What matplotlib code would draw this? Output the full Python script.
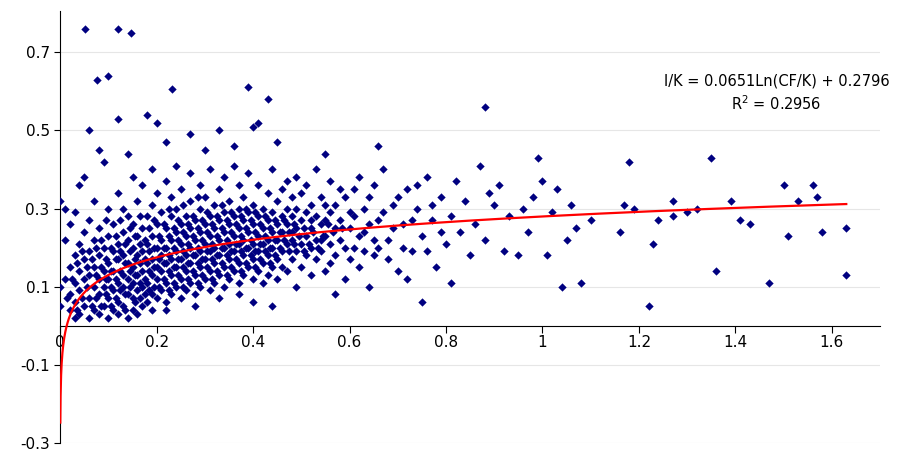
import numpy as np
import matplotlib.pyplot as plt

# points (x = CF/K, y = I/K)
pts = [
    # outliers, top
    (0.052, 0.76), (0.12, 0.76), (0.147, 0.75), (0.077, 0.63), (0.10, 0.64),
    (0.232, 0.605), (0.39, 0.61), (0.43, 0.58), (0.88, 0.56), (0.06, 0.50),
    (0.18, 0.54), (0.20, 0.52), (0.12, 0.53), (0.41, 0.52), (0.40, 0.51),
    (0.33, 0.50), (0.27, 0.49), (0.22, 0.47), (0.36, 0.46), (0.45, 0.47),
    (0.66, 0.46), (0.08, 0.45), (0.14, 0.44), (0.30, 0.45), (0.55, 0.44),
    # right side sparse
    (1.18, 0.42), (1.35, 0.43), (1.50, 0.36), (1.56, 0.36), (1.63, 0.25),
    (1.63, 0.13), (1.47, 0.11), (1.36, 0.14), (1.22, 0.05), (0.75, 0.06),
    (1.04, 0.10), (1.08, 0.11), (0.99, 0.43), (1.00, 0.37), (1.27, 0.32),
    (1.27, 0.28), (1.39, 0.32), (1.41, 0.27), (1.43, 0.26), (1.53, 0.32),
    (1.57, 0.33), (1.51, 0.23), (1.58, 0.24), (1.32, 0.30), (1.30, 0.29),
    (1.23, 0.21), (1.24, 0.27), (1.17, 0.31), (1.16, 0.24), (1.19, 0.30),
    (1.10, 0.27), (1.07, 0.25), (1.05, 0.22), (1.06, 0.31), (1.03, 0.35),
    (1.02, 0.29), (0.98, 0.33), (0.97, 0.24), (0.95, 0.18), (0.93, 0.28),
    (0.91, 0.36), (0.90, 0.31), (0.88, 0.22), (0.87, 0.41), (0.86, 0.26),
    (0.85, 0.18), (0.84, 0.32), (0.83, 0.24), (0.82, 0.37), (0.81, 0.28),
    (0.80, 0.21), (0.79, 0.33), (0.78, 0.15), (0.77, 0.27), (0.76, 0.38),
    (0.75, 0.23), (0.74, 0.30), (0.73, 0.19), (0.72, 0.35), (0.71, 0.26),
    (0.70, 0.14), (0.69, 0.31), (0.68, 0.22), (0.67, 0.40), (0.66, 0.27),
    (0.65, 0.18), (0.64, 0.33), (0.63, 0.24), (0.62, 0.38), (0.61, 0.20),
    (0.60, 0.29), (0.59, 0.12), (0.58, 0.35), (0.57, 0.25), (0.56, 0.16),
    (0.55, 0.31), (0.54, 0.22), (0.53, 0.40), (0.52, 0.27), (0.51, 0.18),
    (0.50, 0.34), (0.49, 0.10), (0.48, 0.24), (0.47, 0.37), (0.46, 0.15),
    (0.92, 0.19), (0.96, 0.30), (1.01, 0.18), (0.89, 0.34), (0.81, 0.11),
    (0.72, 0.12), (0.64, 0.10), (0.57, 0.08), (0.52, 0.13), (0.44, 0.05),
    (0.40, 0.06), (0.37, 0.08), (0.33, 0.07), (0.28, 0.05), (0.22, 0.04),
]
# dense cloud, by x band
cloud = [
    (0.00, 0.05), (0.00, 0.10), (0.00, 0.32), (0.01, 0.12), (0.01, 0.30),
    (0.01, 0.22), (0.02, 0.04), (0.02, 0.08), (0.02, 0.15), (0.02, 0.26),
    (0.03, 0.02), (0.03, 0.06), (0.03, 0.11), (0.03, 0.18), (0.03, 0.29),
    (0.04, 0.03), (0.04, 0.09), (0.04, 0.14), (0.04, 0.21), (0.04, 0.36),
    (0.05, 0.05), (0.05, 0.12), (0.05, 0.17), (0.05, 0.24), (0.05, 0.38),
    (0.06, 0.02), (0.06, 0.07), (0.06, 0.13), (0.06, 0.19), (0.06, 0.27),
    (0.07, 0.04), (0.07, 0.10), (0.07, 0.15), (0.07, 0.22), (0.07, 0.32),
    (0.08, 0.03), (0.08, 0.08), (0.08, 0.12), (0.08, 0.18), (0.08, 0.25),
    (0.09, 0.05), (0.09, 0.10), (0.09, 0.14), (0.09, 0.20), (0.09, 0.42),
    (0.10, 0.02), (0.10, 0.07), (0.10, 0.12), (0.10, 0.16), (0.10, 0.23),
    (0.10, 0.30), (0.11, 0.04), (0.11, 0.09), (0.11, 0.14), (0.11, 0.19),
    (0.11, 0.26), (0.12, 0.03), (0.12, 0.06), (0.12, 0.11), (0.12, 0.17),
    (0.12, 0.21), (0.12, 0.34), (0.13, 0.05), (0.13, 0.10), (0.13, 0.13),
    (0.13, 0.18), (0.13, 0.24), (0.13, 0.30), (0.14, 0.02), (0.14, 0.08),
    (0.14, 0.12), (0.14, 0.16), (0.14, 0.22), (0.14, 0.28), (0.15, 0.04),
    (0.15, 0.07), (0.15, 0.11), (0.15, 0.15), (0.15, 0.20), (0.15, 0.26),
    (0.15, 0.38), (0.16, 0.03), (0.16, 0.09), (0.16, 0.13), (0.16, 0.18),
    (0.16, 0.23), (0.16, 0.32), (0.17, 0.05), (0.17, 0.10), (0.17, 0.14),
    (0.17, 0.19), (0.17, 0.25), (0.17, 0.36), (0.18, 0.06), (0.18, 0.11),
    (0.18, 0.16), (0.18, 0.21), (0.18, 0.28), (0.19, 0.04), (0.19, 0.08),
    (0.19, 0.13), (0.19, 0.17), (0.19, 0.23), (0.19, 0.31), (0.19, 0.40),
    (0.20, 0.07), (0.20, 0.12), (0.20, 0.15), (0.20, 0.20), (0.20, 0.26),
    (0.20, 0.34), (0.21, 0.09), (0.21, 0.14), (0.21, 0.18), (0.21, 0.22),
    (0.21, 0.29), (0.22, 0.06), (0.22, 0.11), (0.22, 0.16), (0.22, 0.20),
    (0.22, 0.25), (0.22, 0.37), (0.23, 0.08), (0.23, 0.13), (0.23, 0.17),
    (0.23, 0.22), (0.23, 0.28), (0.23, 0.33), (0.24, 0.10), (0.24, 0.15),
    (0.24, 0.19), (0.24, 0.24), (0.24, 0.30), (0.24, 0.41), (0.25, 0.07),
    (0.25, 0.12), (0.25, 0.17), (0.25, 0.21), (0.25, 0.26), (0.25, 0.35),
    (0.26, 0.09), (0.26, 0.14), (0.26, 0.18), (0.26, 0.23), (0.26, 0.28),
    (0.27, 0.11), (0.27, 0.16), (0.27, 0.20), (0.27, 0.25), (0.27, 0.32),
    (0.27, 0.39), (0.28, 0.08), (0.28, 0.13), (0.28, 0.18), (0.28, 0.22),
    (0.28, 0.27), (0.29, 0.10), (0.29, 0.15), (0.29, 0.19), (0.29, 0.24),
    (0.29, 0.30), (0.29, 0.36), (0.30, 0.12), (0.30, 0.17), (0.30, 0.21),
    (0.30, 0.26), (0.30, 0.33), (0.31, 0.09), (0.31, 0.14), (0.31, 0.19),
    (0.31, 0.23), (0.31, 0.28), (0.31, 0.40), (0.32, 0.11), (0.32, 0.16),
    (0.32, 0.20), (0.32, 0.25), (0.32, 0.31), (0.33, 0.13), (0.33, 0.18),
    (0.33, 0.22), (0.33, 0.27), (0.33, 0.35), (0.34, 0.10), (0.34, 0.15),
    (0.34, 0.20), (0.34, 0.24), (0.34, 0.29), (0.34, 0.38), (0.35, 0.12),
    (0.35, 0.17), (0.35, 0.21), (0.35, 0.26), (0.35, 0.32), (0.36, 0.14),
    (0.36, 0.19), (0.36, 0.23), (0.36, 0.28), (0.36, 0.41), (0.37, 0.11),
    (0.37, 0.16), (0.37, 0.21), (0.37, 0.25), (0.37, 0.30), (0.37, 0.36),
    (0.38, 0.13), (0.38, 0.18), (0.38, 0.22), (0.38, 0.27), (0.38, 0.33),
    (0.39, 0.15), (0.39, 0.20), (0.39, 0.24), (0.39, 0.29), (0.39, 0.39),
    (0.40, 0.12), (0.40, 0.17), (0.40, 0.21), (0.40, 0.26), (0.40, 0.31),
    (0.41, 0.14), (0.41, 0.19), (0.41, 0.23), (0.41, 0.28), (0.41, 0.36),
    (0.42, 0.11), (0.42, 0.16), (0.42, 0.21), (0.42, 0.25), (0.42, 0.30),
    (0.43, 0.13), (0.43, 0.18), (0.43, 0.22), (0.43, 0.27), (0.43, 0.34),
    (0.44, 0.15), (0.44, 0.20), (0.44, 0.24), (0.44, 0.29), (0.44, 0.40),
    (0.45, 0.12), (0.45, 0.17), (0.45, 0.22), (0.45, 0.26), (0.45, 0.32),
    (0.46, 0.19), (0.46, 0.24), (0.46, 0.28), (0.46, 0.35), (0.47, 0.14),
    (0.47, 0.21), (0.47, 0.26), (0.47, 0.30), (0.48, 0.17), (0.48, 0.22),
    (0.48, 0.28), (0.48, 0.33), (0.49, 0.19), (0.49, 0.25), (0.49, 0.30),
    (0.49, 0.38), (0.50, 0.15), (0.50, 0.21), (0.50, 0.27), (0.51, 0.23),
    (0.51, 0.29), (0.51, 0.36), (0.52, 0.20), (0.52, 0.25), (0.52, 0.31),
    (0.53, 0.17), (0.53, 0.22), (0.53, 0.28), (0.54, 0.19), (0.54, 0.26),
    (0.54, 0.33), (0.55, 0.14), (0.55, 0.23), (0.55, 0.27), (0.56, 0.21),
    (0.56, 0.29), (0.56, 0.37), (0.57, 0.18), (0.57, 0.31), (0.58, 0.22),
    (0.58, 0.27), (0.59, 0.20), (0.59, 0.33), (0.60, 0.17), (0.60, 0.25),
    (0.61, 0.28), (0.61, 0.35), (0.62, 0.15), (0.62, 0.23), (0.63, 0.19),
    (0.63, 0.30), (0.64, 0.26), (0.65, 0.22), (0.65, 0.36), (0.66, 0.20),
    (0.67, 0.29), (0.68, 0.17), (0.69, 0.25), (0.70, 0.33), (0.71, 0.20),
    (0.73, 0.27), (0.74, 0.36), (0.76, 0.19), (0.77, 0.31), (0.79, 0.24),
]
# the densest core, filled in between the rows above
core = [
    (0.015, 0.07), (0.025, 0.12), (0.035, 0.04), (0.035, 0.16), (0.045, 0.07),
    (0.045, 0.19), (0.055, 0.10), (0.055, 0.15), (0.065, 0.05), (0.065, 0.17),
    (0.075, 0.07), (0.075, 0.13), (0.075, 0.20), (0.085, 0.05), (0.085, 0.15),
    (0.085, 0.22), (0.095, 0.08), (0.095, 0.12), (0.095, 0.17), (0.095, 0.27),
    (0.105, 0.05), (0.105, 0.10), (0.105, 0.14), (0.105, 0.20), (0.115, 0.07),
    (0.115, 0.12), (0.115, 0.17), (0.115, 0.23), (0.125, 0.09), (0.125, 0.14),
    (0.125, 0.19), (0.125, 0.27), (0.135, 0.04), (0.135, 0.08), (0.135, 0.16),
    (0.135, 0.21), (0.145, 0.10), (0.145, 0.14), (0.145, 0.19), (0.145, 0.25),
    (0.155, 0.06), (0.155, 0.13), (0.155, 0.17), (0.155, 0.23), (0.165, 0.07),
    (0.165, 0.11), (0.165, 0.16), (0.165, 0.21), (0.165, 0.28), (0.175, 0.08),
    (0.175, 0.12), (0.175, 0.17), (0.175, 0.22), (0.185, 0.09), (0.185, 0.14),
    (0.185, 0.19), (0.185, 0.25), (0.195, 0.10), (0.195, 0.15), (0.195, 0.20),
    (0.195, 0.27), (0.205, 0.10), (0.205, 0.17), (0.205, 0.23), (0.215, 0.12),
    (0.215, 0.16), (0.215, 0.20), (0.215, 0.26), (0.225, 0.09), (0.225, 0.14),
    (0.225, 0.18), (0.225, 0.23), (0.225, 0.30), (0.235, 0.11), (0.235, 0.15),
    (0.235, 0.20), (0.235, 0.25), (0.245, 0.13), (0.245, 0.17), (0.245, 0.22),
    (0.245, 0.27), (0.255, 0.10), (0.255, 0.15), (0.255, 0.19), (0.255, 0.24),
    (0.255, 0.31), (0.265, 0.12), (0.265, 0.16), (0.265, 0.21), (0.265, 0.26),
    (0.275, 0.14), (0.275, 0.18), (0.275, 0.23), (0.275, 0.28), (0.285, 0.11),
    (0.285, 0.16), (0.285, 0.20), (0.285, 0.25), (0.285, 0.33), (0.295, 0.13),
    (0.295, 0.17), (0.295, 0.22), (0.295, 0.27), (0.305, 0.15), (0.305, 0.19),
    (0.305, 0.24), (0.305, 0.29), (0.315, 0.12), (0.315, 0.17), (0.315, 0.21),
    (0.315, 0.26), (0.325, 0.14), (0.325, 0.18), (0.325, 0.23), (0.325, 0.28),
    (0.335, 0.16), (0.335, 0.20), (0.335, 0.25), (0.335, 0.31), (0.345, 0.13),
    (0.345, 0.18), (0.345, 0.22), (0.345, 0.27), (0.355, 0.15), (0.355, 0.19),
    (0.355, 0.24), (0.355, 0.29), (0.365, 0.17), (0.365, 0.21), (0.365, 0.26),
    (0.375, 0.14), (0.375, 0.19), (0.375, 0.23), (0.375, 0.28), (0.385, 0.16),
    (0.385, 0.20), (0.385, 0.25), (0.385, 0.30), (0.395, 0.18), (0.395, 0.22),
    (0.395, 0.27), (0.405, 0.15), (0.405, 0.19), (0.405, 0.24), (0.405, 0.29),
    (0.415, 0.17), (0.415, 0.21), (0.415, 0.26), (0.425, 0.19), (0.425, 0.23),
    (0.425, 0.28), (0.435, 0.16), (0.435, 0.20), (0.435, 0.25), (0.445, 0.18),
    (0.445, 0.22), (0.445, 0.27), (0.455, 0.20), (0.455, 0.24), (0.465, 0.22),
    (0.465, 0.27), (0.475, 0.19), (0.475, 0.24), (0.485, 0.21), (0.485, 0.26),
    (0.495, 0.23), (0.505, 0.19), (0.505, 0.25), (0.515, 0.21), (0.525, 0.24),
    (0.535, 0.20), (0.545, 0.23), (0.555, 0.26), (0.565, 0.24), (0.585, 0.25),
]
pts = pts + cloud + core
cf_k = np.array([p[0] for p in pts])
i_k = np.array([p[1] for p in pts])

# trendline as printed on the chart
a, b = 0.0651, 0.2796
fit_x = np.linspace(0.0003, 1.63, 3000)
fit_y = a * np.log(fit_x) + b

fig, ax = plt.subplots(figsize=(8.98, 4.55), dpi=100)
fig.subplots_adjust(left=0.067, right=0.98, top=0.975, bottom=0.027)

ax.scatter(cf_k, i_k, marker='D', s=18, color='#000080', linewidths=0, zorder=3)
ax.plot(fit_x, fit_y, color='#ff0000', lw=1.6, zorder=4)

ax.set_xlim(0, 1.7)
ax.set_ylim(-0.3, 0.805)
ax.set_yticks([-0.3, -0.1, 0.1, 0.3, 0.5, 0.7])
ax.set_yticklabels(['-0.3', '-0.1', '0.1', '0.3', '0.5', '0.7'])
ax.set_xticks([0, 0.2, 0.4, 0.6, 0.8, 1, 1.2, 1.4, 1.6])
ax.set_xticklabels(['0', '0.2', '0.4', '0.6', '0.8', '1', '1.2', '1.4', '1.6'])
ax.grid(axis='y', color='#e6e6e6', lw=0.8, zorder=0)
ax.spines['top'].set_visible(False)
ax.spines['right'].set_visible(False)
ax.spines['bottom'].set_position(('data', 0))
ax.spines['left'].set_position(('data', 0))
ax.tick_params(axis='x', direction='out', length=5, labelsize=11, pad=2)
ax.tick_params(axis='y', direction='out', length=4, labelsize=11)

ax.text(1.485, 0.595, 'I/K = 0.0651Ln(CF/K) + 0.2796\nR$^2$ = 0.2956',
        ha='center', va='center', fontsize=10.5, linespacing=1.4)

fig.savefig('out.png')
